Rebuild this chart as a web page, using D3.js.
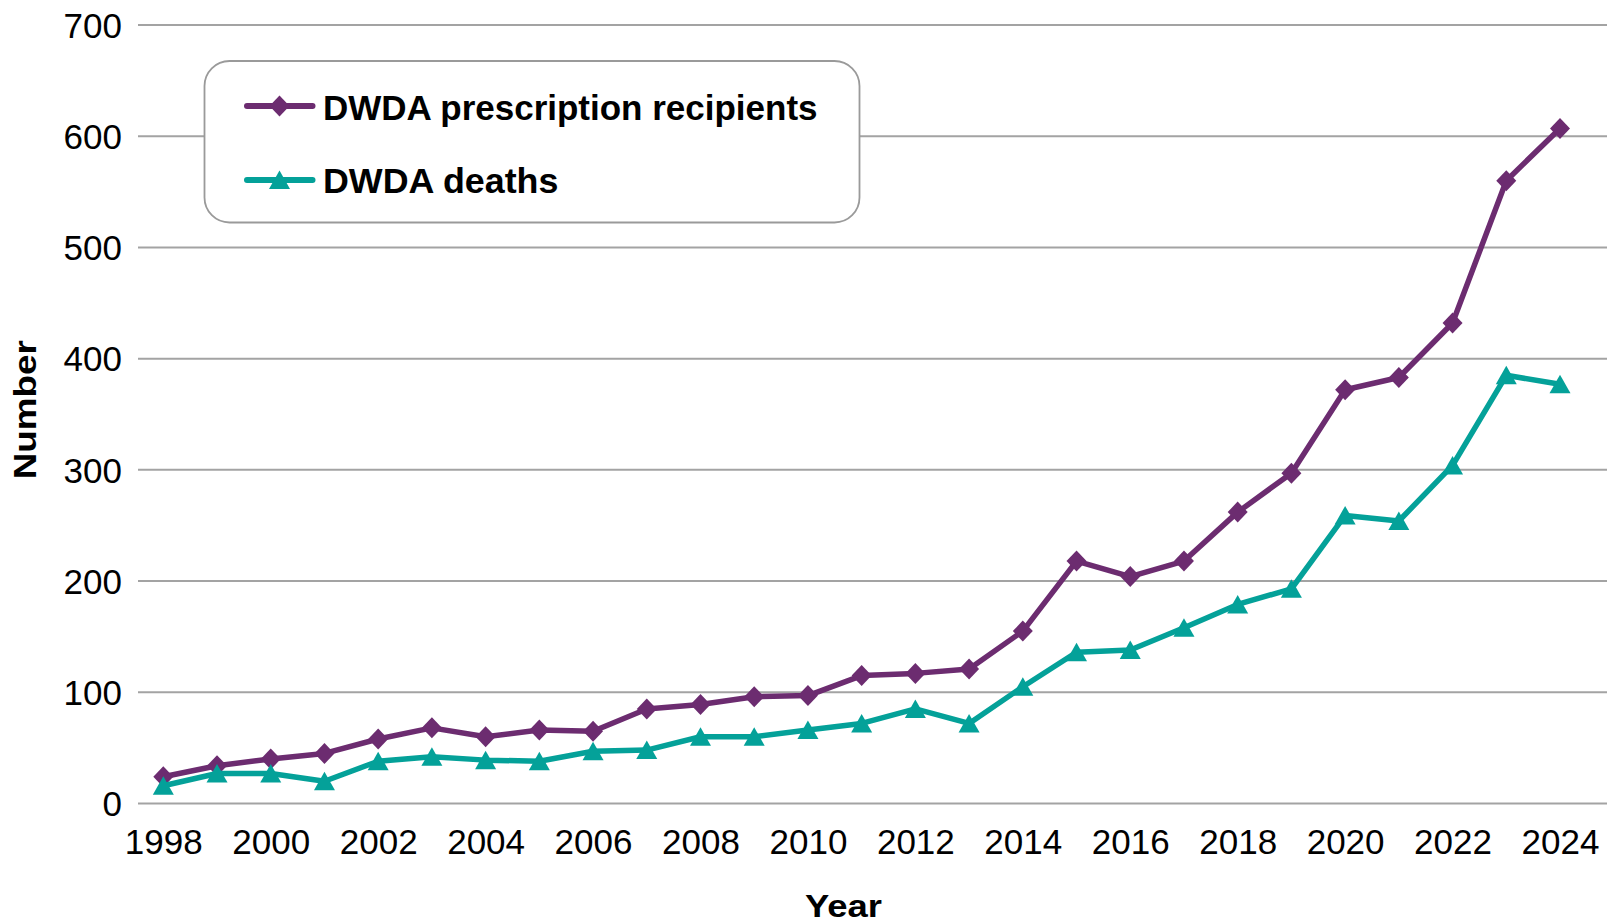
<!DOCTYPE html>
<html>
<head>
<meta charset="utf-8">
<script src="https://cdn.jsdelivr.net/npm/d3@7"></script>
<style>
  html, body { margin: 0; padding: 0; background: #fff; }
  svg { display: block; font-family: "Liberation Sans", Arial, Helvetica, sans-serif; }
</style>
</head>
<body>
<svg id="chart" width="1612" height="923"></svg>
<script>
// ---- data ----
const years = [1998,1999,2000,2001,2002,2003,2004,2005,2006,2007,2008,2009,2010,2011,2012,2013,2014,2015,2016,2017,2018,2019,2020,2021,2022,2023,2024];
const recipients = [24,34,40,45,58,68,60,66,65,85,89,96,97,115,117,121,155,218,204,218,262,297,372,383,432,560,607];
const deaths = [16,27,27,20,38,42,39,38,47,48,60,60,66,72,85,72,105,136,138,158,179,193,259,254,304,385,377];
const yTicks = [0,100,200,300,400,500,600,700];
const xTicks = [1998,2000,2002,2004,2006,2008,2010,2012,2014,2016,2018,2020,2022,2024];
const seriesNames = ["DWDA prescription recipients", "DWDA deaths"];

// ---- layout ----
const svg = d3.select("#chart");
const purple = "#6c2c70";
const teal = "#04a199";
const gridColor = "#a3a3a3";

const x = d3.scaleLinear().domain([1998, 2024]).range([163.3, 1560]);
const y = d3.scaleLinear().domain([0, 700]).range([803.5, 25]);
const gridX0 = 138, gridX1 = 1607;

// gridlines
svg.append("g").selectAll("line").data(yTicks).join("line")
  .attr("x1", gridX0).attr("x2", gridX1)
  .attr("y1", d => y(d)).attr("y2", d => y(d))
  .attr("stroke", gridColor).attr("stroke-width", 2);

// y tick labels
const yAxis = d3.axisLeft(y).tickValues(yTicks).tickSize(0).tickPadding(0).tickFormat(d3.format("d"));
const gy = svg.append("g").attr("transform", "translate(122,0)").call(yAxis);
gy.select(".domain").remove();
gy.selectAll("text").attr("font-size", 35).attr("fill", "#000")
  .attr("font-family", "'Liberation Sans', Arial, sans-serif").attr("dy", "0.35em");

// x tick labels
const xAxis = d3.axisBottom(x).tickValues(xTicks).tickSize(0).tickPadding(0).tickFormat(d3.format("d"));
const gx = svg.append("g").attr("transform", "translate(0,854)").call(xAxis);
gx.select(".domain").remove();
gx.selectAll("text").attr("font-size", 35).attr("fill", "#000")
  .attr("font-family", "'Liberation Sans', Arial, sans-serif").attr("dy", 0).attr("y", 0);

// axis titles
svg.append("text").text("Year")
  .attr("x", 843.5).attr("y", 917).attr("text-anchor", "middle")
  .attr("font-size", 32).attr("font-weight", "bold").attr("fill", "#000")
  .attr("textLength", 77).attr("lengthAdjust", "spacingAndGlyphs");
svg.append("text").text("Number")
  .attr("transform", "translate(36,409.7) rotate(-90)").attr("text-anchor", "middle")
  .attr("font-size", 32).attr("font-weight", "bold").attr("fill", "#000")
  .attr("textLength", 139).attr("lengthAdjust", "spacingAndGlyphs");

// marker shapes
const diamondPath = "M0,-10.5L10,0L0,10.5L-10,0Z";
const trianglePath = "M0,-9.5L10.5,9L-10.5,9Z";

const line = d3.line().x((d, i) => x(years[i])).y(d => y(d));

function drawSeries(vals, color, path) {
  svg.append("path").datum(vals)
    .attr("d", line).attr("fill", "none").attr("stroke", color)
    .attr("stroke-width", 5.5).attr("stroke-linejoin", "round").attr("stroke-linecap", "round");
  svg.append("g").selectAll("path").data(vals).join("path")
    .attr("d", path)
    .attr("transform", (d, i) => `translate(${x(years[i])},${y(d)})`)
    .attr("fill", color);
}
drawSeries(recipients, purple, diamondPath);
drawSeries(deaths, teal, trianglePath);

// legend
const leg = svg.append("g");
leg.append("rect").attr("x", 204.5).attr("y", 61).attr("width", 655).attr("height", 161.5)
  .attr("rx", 25).attr("ry", 25).attr("fill", "#fff").attr("stroke", "#9a9a9a").attr("stroke-width", 1.8);
const legItems = [
  {name: seriesNames[0], color: purple, path: diamondPath, cy: 106, base: 119.5, len: 494.5},
  {name: seriesNames[1], color: teal, path: trianglePath, cy: 180, base: 193, len: 235.4}
];
legItems.forEach(it => {
  leg.append("line").attr("x1", 247).attr("x2", 312.5).attr("y1", it.cy).attr("y2", it.cy)
    .attr("stroke", it.color).attr("stroke-width", 6).attr("stroke-linecap", "round");
  leg.append("path").attr("d", it.path).attr("transform", `translate(279.5,${it.cy})`).attr("fill", it.color);
  leg.append("text").text(it.name).attr("x", 323).attr("y", it.base)
    .attr("font-size", 35).attr("font-weight", "bold").attr("fill", "#000")
    .attr("textLength", it.len).attr("lengthAdjust", "spacingAndGlyphs");
});
</script>
</body>
</html>
